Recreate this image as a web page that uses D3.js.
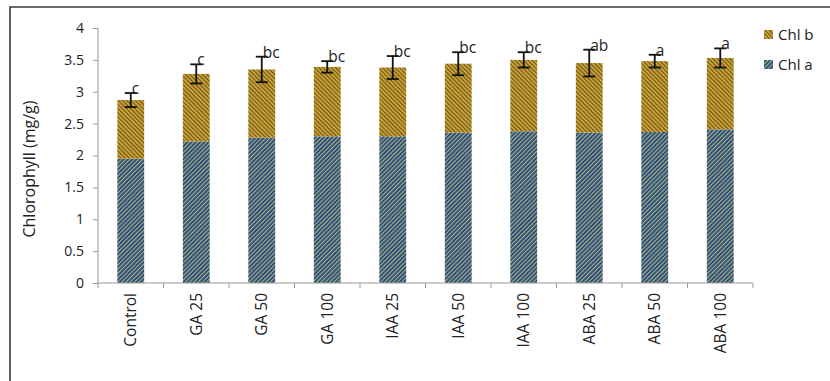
<!DOCTYPE html>
<html><head><meta charset="utf-8">
<script src="https://cdn.jsdelivr.net/npm/d3@7"></script>
<style>
body{margin:0;background:#fff;}
svg{display:block;font-family:"Open Sans",sans-serif;}
</style></head>
<body><svg id="c" width="830" height="381"></svg>
<script>
const categories = ["Control","GA 25","GA 50","GA 100","IAA 25","IAA 50","IAA 100","ABA 25","ABA 50","ABA 100"];
const chlA = [1.95, 2.22, 2.28, 2.30, 2.30, 2.36, 2.38, 2.36, 2.37, 2.41];
const chlB = [0.92, 1.06, 1.07, 1.09, 1.08, 1.08, 1.12, 1.09, 1.11, 1.12];
const errors = [0.11, 0.15, 0.20, 0.09, 0.18, 0.18, 0.12, 0.21, 0.10, 0.15];
const letters = ["c","c","bc","bc","bc","bc","bc","ab","a","a"];
const yTicks = [0,0.5,1,1.5,2,2.5,3,3.5,4];
const seriesNames = ["Chl b","Chl a"];

const svg = d3.select("#c");
const defs = svg.append("defs");
function pat(id, bg, fg, ang){
  const p = defs.append("pattern").attr("id", id).attr("patternUnits","userSpaceOnUse")
    .attr("width",3).attr("height",3).attr("patternTransform","rotate("+ang+")");
  p.append("rect").attr("width",3).attr("height",3).attr("fill",bg);
  p.append("rect").attr("width",1.2).attr("height",3).attr("fill",fg);
}
pat("pa","#24438c","#a9b86a",45);
pat("pb","#d2a83a","#6a5416",-45);

// frame
svg.append("path").attr("d","M10,381V7H830").attr("fill","none").attr("stroke","#3a3a3a").attr("stroke-width",1.6);

const x = d3.scaleBand().domain(categories).range([98,753]).padding(0);
const y = d3.scaleLinear().domain([0,4]).range([283,28]);
const bw = x.bandwidth()*0.41;
const cx = d => x(d)+x.bandwidth()/2;

// y axis
const ya = svg.append("g").attr("transform","translate(98,0)")
  .call(d3.axisLeft(y).tickValues(yTicks).tickSize(5).tickPadding(9).tickFormat(d3.format("")));
ya.select(".domain").attr("stroke","#999").attr("d","M0,28V283");
ya.selectAll(".tick line").attr("stroke","#999");
ya.selectAll("text").attr("font-size",14).attr("fill","#222").attr("font-family","Open Sans");

// bars
const total = chlA.map((a,i)=>a+chlB[i]);
svg.append("g").selectAll("rect").data(categories).join("rect")
  .attr("x",d=>cx(d)-bw/2).attr("width",bw)
  .attr("y",(d,i)=>y(chlA[i])).attr("height",(d,i)=>y(0)-y(chlA[i]))
  .attr("fill","url(#pa)");
svg.append("g").selectAll("rect").data(categories).join("rect")
  .attr("x",d=>cx(d)-bw/2).attr("width",bw)
  .attr("y",(d,i)=>y(total[i])).attr("height",(d,i)=>y(chlA[i])-y(total[i]))
  .attr("fill","url(#pb)");

// x axis
svg.append("line").attr("x1",98).attr("x2",753).attr("y1",283).attr("y2",283).attr("stroke","#999");
const bounds = categories.map(d=>x(d)).concat([x.range()[1]]);
svg.append("g").selectAll("line").data(bounds).join("line")
  .attr("x1",d=>d).attr("x2",d=>d).attr("y1",283).attr("y2",288).attr("stroke","#999");
svg.append("g").selectAll("text").data(categories).join("text")
  .attr("transform",d=>"translate("+cx(d)+",293) rotate(-90)")
  .attr("dy","0.36em").attr("text-anchor","end").attr("font-size",15.5).attr("fill","#222").text(d=>d);

// error bars
const eg = svg.append("g").attr("stroke","#111").attr("stroke-width",1.8);
categories.forEach((d,i)=>{
  const c = cx(d), t = y(total[i]+errors[i]), b = y(total[i]-errors[i]);
  eg.append("line").attr("x1",c).attr("x2",c).attr("y1",t).attr("y2",b);
  eg.append("line").attr("x1",c-6).attr("x2",c+6).attr("y1",t).attr("y2",t);
  eg.append("line").attr("x1",c-6).attr("x2",c+6).attr("y1",b).attr("y2",b);
});
svg.append("g").selectAll("text").data(categories).join("text")
  .attr("x",d=>cx(d)+1).attr("y",(d,i)=>y(total[i]+errors[i])+1)
  .attr("font-size",15.5).attr("fill","#222").text((d,i)=>letters[i]);

// y label
svg.append("text").attr("transform","translate(35,169) rotate(-90)")
  .attr("text-anchor","middle").attr("font-size",16).attr("fill","#222").text("Chlorophyll (mg/g)");

// legend
const lg = svg.append("g");
seriesNames.forEach((n,i)=>{
  const yy = 35 + i*30;
  lg.append("rect").attr("x",764).attr("y",yy-5).attr("width",9).attr("height",9)
    .attr("fill", i===0 ? "url(#pb)" : "url(#pa)");
  lg.append("text").attr("x",778).attr("y",yy).attr("dy","0.36em").attr("font-size",15).attr("fill","#222").text(n);
});
</script></body></html>
